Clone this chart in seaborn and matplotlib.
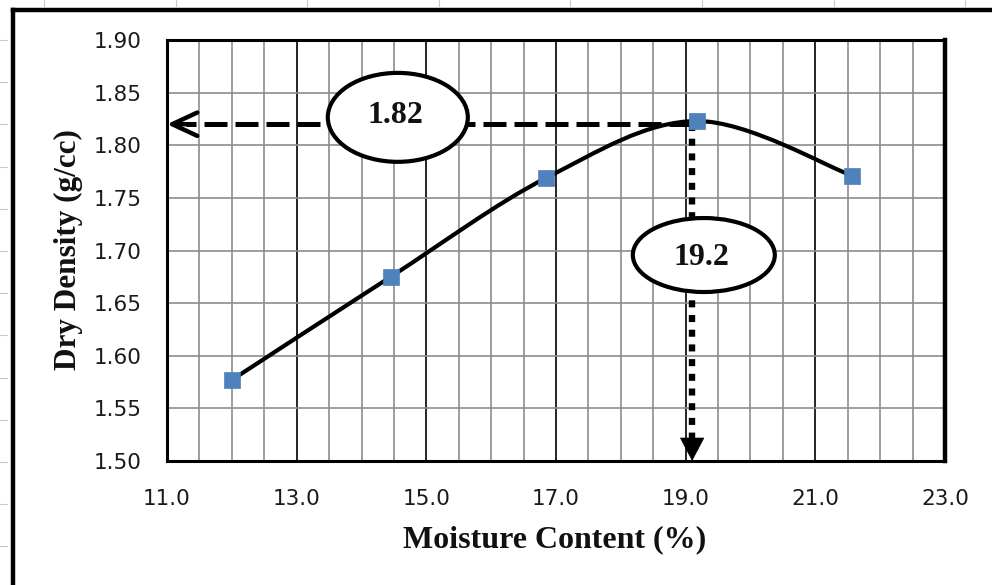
import numpy as np
import pandas as pd
import matplotlib
matplotlib.use("Agg")
import matplotlib.pyplot as plt
import seaborn as sns
from matplotlib.path import Path
from matplotlib.patches import PathPatch, Ellipse
from matplotlib.lines import Line2D

# ---- data ----
moisture = [12.0, 14.45, 16.85, 19.17, 21.57]
density = [1.577, 1.675, 1.769, 1.823, 1.771]
omc = 19.1          # optimum moisture content marker line
mdd = 1.82          # maximum dry density marker line
omc_label = "19.2"
mdd_label = "1.82"
x_ticks = [11.0, 13.0, 15.0, 17.0, 19.0, 21.0, 23.0]
y_ticks = [1.50, 1.55, 1.60, 1.65, 1.70, 1.75, 1.80, 1.85, 1.90]
x_title = "Moisture Content (%)"
y_title = "Dry Density (g/cc)"

df = pd.DataFrame({"moisture": moisture, "density": density})

sns.set_style("white")
plt.rcParams["font.family"] = ["DejaVu Sans"]

W, H = 992, 585
fig = plt.figure(figsize=(W / 100, H / 100), dpi=100)
L, R, T, B = 167, 945, 40, 461
ax = fig.add_axes([L / W, 1 - B / H, (R - L) / W, (B - T) / H])

ax.set_xlim(x_ticks[0], x_ticks[-1])
ax.set_ylim(y_ticks[0], y_ticks[-1])
ax.set_xticks(x_ticks)
ax.set_xticks(np.arange(x_ticks[0], x_ticks[-1] + 0.01, 0.5), minor=True)
ax.set_yticks(y_ticks)
ax.set_xticklabels([f"{v:.1f}" for v in x_ticks])
ax.set_yticklabels([f"{v:.2f}" for v in y_ticks])

ax.grid(which="minor", axis="x", color="#8c8c8c", lw=1.2, zorder=0)
ax.grid(which="major", axis="x", color="black", lw=1.2, zorder=0)
ax.grid(which="major", axis="y", color="#8c8c8c", lw=1.2, zorder=0)
ax.set_axisbelow(True)
ax.tick_params(which="minor", length=0)
ax.tick_params(which="major", direction="out", length=7, width=1.2,
               color="#8c8c8c", labelsize=15.5, labelcolor="#1a1a1a")
ax.tick_params(axis="x", which="major", pad=13)
ax.tick_params(axis="y", which="major", pad=11)
for s in ["left", "bottom", "top"]:
    ax.spines[s].set_color("black")
    ax.spines[s].set_linewidth(2.2)
ax.spines["right"].set_color("black")
ax.spines["right"].set_linewidth(3.2)

# ---- smoothed curve (Bezier through the data, like a spreadsheet smooth line) ----
P = np.column_stack([df["moisture"].to_numpy(), df["density"].to_numpy()])
n = len(P)
verts = [tuple(P[0])]
codes = [Path.MOVETO]
for i in range(n - 1):
    p0 = P[max(i - 1, 0)]
    p1 = P[i]
    p2 = P[i + 1]
    p3 = P[min(i + 2, n - 1)]
    c1 = p1 + (p2 - p0) / 6.0
    c2 = p2 - (p3 - p1) / 6.0
    verts += [tuple(c1), tuple(c2), tuple(p2)]
    codes += [Path.CURVE4] * 3
ax.add_patch(PathPatch(Path(verts, codes), facecolor="none", edgecolor="black",
                       lw=3, zorder=3, capstyle="round"))

# ---- markers ----
sns.scatterplot(data=df, x="moisture", y="density", marker="s", s=125,
                color="#4F81BD", edgecolor="#4F81BD", linewidth=0.5,
                zorder=4, ax=ax, legend=False)

# ---- guide lines ----
ax.plot([omc, x_ticks[0] + 0.3], [mdd, mdd], color="black", lw=3.6,
        dashes=(4.6, 1.6), dash_capstyle="butt", zorder=3.5)
ax.annotate("", xy=(x_ticks[0], mdd), xytext=(x_ticks[0] + 0.35, mdd),
            arrowprops=dict(arrowstyle="->,head_length=0.9,head_width=0.42",
                            color="black", lw=3.2, shrinkA=0, shrinkB=0,
                            mutation_scale=20), zorder=3.5)
ax.plot([omc, omc], [mdd, y_ticks[0] + 0.02], color="black", lw=4.6,
        dashes=(1.1, 1.2), dash_capstyle="butt", zorder=3.5)
ax.annotate("", xy=(omc, y_ticks[0]), xytext=(omc, y_ticks[0] + 0.025),
            arrowprops=dict(arrowstyle="-|>,head_length=0.8,head_width=0.42",
                            color="black", lw=0.5, shrinkA=0, shrinkB=0,
                            mutation_scale=20), zorder=3.5)

# ---- callout ellipses ----
ax.add_patch(Ellipse((14.56, 1.8265), 2.16, 0.0845, facecolor="white",
                     edgecolor="black", lw=3, zorder=5))
ax.text(14.53, 1.8285, mdd_label, fontfamily="Liberation Serif", fontweight="bold",
        fontsize=23, ha="center", va="center", color="#111111", zorder=6)
ax.add_patch(Ellipse((19.28, 1.6957), 2.19, 0.0703, facecolor="white",
                     edgecolor="black", lw=3, zorder=5))
ax.text(19.25, 1.6935, omc_label, fontfamily="Liberation Serif", fontweight="bold",
        fontsize=23, ha="center", va="center", color="#111111", zorder=6)

# ---- axis titles ----
ax.set_xlabel(x_title, fontfamily="Liberation Serif", fontweight="bold",
              fontsize=23, color="#111111", va="center")
ax.xaxis.set_label_coords((555 - L) / (R - L), (B - 540) / (B - T))
ax.set_ylabel(y_title, fontfamily="Liberation Serif", fontweight="bold",
              fontsize=22.5, color="#111111", va="center")
ax.yaxis.set_label_coords((68 - L) / (R - L), (B - 250) / (B - T))

# ---- outer frame and ruler marks of the screenshot ----
fig.add_artist(Line2D([13 / W, 13 / W], [0, 1 - 10 / H], transform=fig.transFigure,
                      color="black", lw=3.2, solid_capstyle="projecting"))
fig.add_artist(Line2D([13 / W, 1], [1 - 10 / H, 1 - 10 / H], transform=fig.transFigure,
                      color="black", lw=3.2, solid_capstyle="projecting"))
for xp in np.arange(44, W, 131.6):
    fig.add_artist(Line2D([xp / W, xp / W], [1, 1 - 7 / H], transform=fig.transFigure,
                          color="#c8c8c8", lw=0.8))
for yp in np.arange(40, H, 42.2):
    fig.add_artist(Line2D([0, 7 / W], [1 - yp / H, 1 - yp / H], transform=fig.transFigure,
                          color="#c8c8c8", lw=0.8))

fig.savefig("out.png", dpi=100, facecolor="white")
